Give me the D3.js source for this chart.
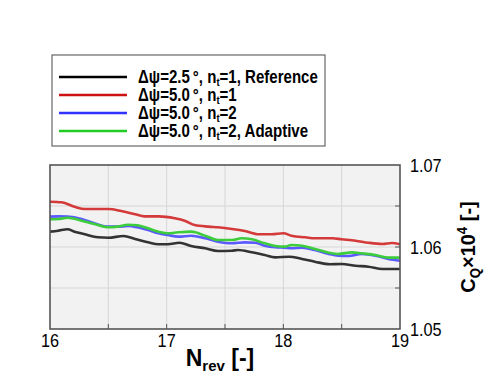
<!DOCTYPE html>
<html><head><meta charset="utf-8">
<script src="https://cdn.jsdelivr.net/npm/d3@7"></script>
<style>
html,body{margin:0;padding:0;background:#fff;}
svg{display:block;font-family:"Liberation Sans",Arial,Helvetica,sans-serif;}
</style></head>
<body>
<svg id="chart" width="501" height="376"></svg>
<script>
// ---- data ----
const seriesNames = ["ref", "red", "blue", "green"];
const nRef = [16.00,16.07,16.15,16.21,16.30,16.41,16.50,16.63,16.73,16.84,16.93,17.01,17.11,17.21,17.33,17.44,17.56,17.61,17.73,17.84,17.93,18.05,18.16,18.27,18.40,18.50,18.62,18.73,18.85,19.00];
const cqRef = [1.06187,1.06199,1.06216,1.06187,1.06155,1.06118,1.06113,1.06134,1.06098,1.06057,1.06033,1.06033,1.06052,1.06012,1.05984,1.05951,1.05955,1.05963,1.05935,1.05902,1.05874,1.05882,1.05854,1.05821,1.05789,1.05793,1.05772,1.05760,1.05732,1.05732];
const nRed = [16.00,16.10,16.21,16.30,16.50,16.61,16.73,16.81,16.93,17.07,17.16,17.24,17.36,17.44,17.56,17.67,17.79,17.90,18.00,18.07,18.19,18.27,18.42,18.50,18.62,18.73,18.85,18.93,19.00];
const cqRed = [1.06552,1.06545,1.06491,1.06463,1.06463,1.06439,1.06399,1.06374,1.06374,1.06350,1.06317,1.06268,1.06248,1.06240,1.06220,1.06195,1.06155,1.06155,1.06167,1.06138,1.06118,1.06106,1.06106,1.06094,1.06077,1.06052,1.06037,1.06049,1.06033];
const nBlue = [16.00,16.07,16.15,16.27,16.38,16.50,16.58,16.67,16.75,16.84,16.93,17.01,17.10,17.21,17.33,17.44,17.56,17.67,17.76,17.84,17.93,18.01,18.07,18.16,18.27,18.39,18.47,18.56,18.67,18.79,18.90,19.00];
const cqBlue = [1.06370,1.06374,1.06370,1.06341,1.06289,1.06248,1.06248,1.06256,1.06240,1.06207,1.06167,1.06146,1.06126,1.06138,1.06106,1.06065,1.06045,1.06057,1.06052,1.06016,1.05996,1.05991,1.05984,1.05991,1.05963,1.05915,1.05894,1.05890,1.05915,1.05894,1.05854,1.05833];
const nGreen = [16.00,16.07,16.15,16.27,16.38,16.50,16.58,16.67,16.75,16.84,16.93,17.01,17.10,17.21,17.33,17.44,17.56,17.64,17.73,17.84,17.93,18.01,18.07,18.16,18.27,18.39,18.47,18.59,18.67,18.79,18.90,19.00];
const cqGreen = [1.06338,1.06341,1.06357,1.06321,1.06280,1.06240,1.06248,1.06272,1.06265,1.06228,1.06187,1.06167,1.06179,1.06187,1.06138,1.06085,1.06085,1.06106,1.06094,1.06045,1.06012,1.06004,1.06024,1.06016,1.05976,1.05931,1.05915,1.05935,1.05923,1.05902,1.05870,1.05870];
const xTicks = [16, 17, 18, 19];
const xMinor = [16.5, 17, 17.5, 18, 18.5];
const yTicks = [1.05, 1.06, 1.07];
const yMinor = [1.055, 1.06, 1.065];
const legendLabels = [
  {pre:"\u0394\u03c8=2.5\u2009\u00b0, n", sub:"t", post:"=1, Reference"},
  {pre:"\u0394\u03c8=5.0\u2009\u00b0, n", sub:"t", post:"=1"},
  {pre:"\u0394\u03c8=5.0\u2009\u00b0, n", sub:"t", post:"=2"},
  {pre:"\u0394\u03c8=5.0\u2009\u00b0, n", sub:"t", post:"=2, Adaptive"}
];
const colors = ["#333333", "#d43a3a", "#5a5aff", "#3ccc3c"];
const legendColors = ["#000000", "#cc1111", "#3333ff", "#22cc22"];

// ---- drawing ----
const svg = d3.select("#chart");
const L = 50, R = 400, T = 165, B = 329;
const SX = 0.88;
const x = d3.scaleLinear().domain([16, 19]).range([L, R]);
const y = d3.scaleLinear().domain([1.05, 1.07]).range([B, T]);

svg.append("rect").attr("x", L).attr("y", T).attr("width", R - L).attr("height", B - T).attr("fill", "#f2f2f2");

// grid
const g = svg.append("g");
g.selectAll(".vg").data(xMinor).enter().append("line")
  .attr("x1", d => x(d)).attr("x2", d => x(d)).attr("y1", T).attr("y2", B)
  .attr("stroke", "#d6d6d6").attr("stroke-width", 1);
g.selectAll(".hg").data(yMinor).enter().append("line")
  .attr("y1", d => y(d)).attr("y2", d => y(d)).attr("x1", L).attr("x2", R)
  .attr("stroke", "#d6d6d6").attr("stroke-width", 1);

// series
const series = [
  {n: nRef, v: cqRef}, {n: nRed, v: cqRed}, {n: nBlue, v: cqBlue}, {n: nGreen, v: cqGreen}
];
const line = d3.line().x(d => x(d[0])).y(d => y(d[1])).curve(d3.curveMonotoneX);
svg.append("clipPath").attr("id", "clp").append("rect")
  .attr("x", L).attr("y", T).attr("width", R - L).attr("height", B - T);
series.forEach((s, i) => {
  svg.append("path").datum(s.n.map((n, k) => [n, s.v[k]]))
    .attr("d", line).attr("fill", "none").attr("stroke", colors[i])
    .attr("stroke-width", 2.6).attr("clip-path", "url(#clp)");
});

// ticks (inward)
svg.append("g").selectAll("line").data(xMinor).enter().append("line")
  .attr("x1", d => x(d)).attr("x2", d => x(d)).attr("y1", B).attr("y2", B - 5)
  .attr("stroke", "#555").attr("stroke-width", 1);
svg.append("g").selectAll("line").data(yMinor).enter().append("line")
  .attr("y1", d => y(d)).attr("y2", d => y(d)).attr("x1", R).attr("x2", R - 5)
  .attr("stroke", "#555").attr("stroke-width", 1);

// frame
svg.append("rect").attr("x", L).attr("y", T).attr("width", R - L).attr("height", B - T)
  .attr("fill", "none").attr("stroke", "#555").attr("stroke-width", 1.6);

// tick labels
svg.append("g").selectAll("text").data(xTicks).enter().append("text")
  .attr("transform", d => `translate(${x(d)},347) scale(${SX},1)`).attr("text-anchor", "middle")
  .attr("font-size", 18.5).attr("fill", "#000").text(d => d);
svg.append("g").selectAll("text").data(yTicks).enter().append("text")
  .attr("transform", d => `translate(410,${y(d) + 6.5}) scale(${SX},1)`).attr("text-anchor", "start")
  .attr("font-size", 18.5).attr("fill", "#000").text(d => d3.format(".2f")(d));

// axis titles
const xt = svg.append("text").attr("transform", "translate(220,366)").attr("text-anchor", "middle")
  .attr("font-size", 23).attr("font-weight", "bold");
xt.append("tspan").text("N");
xt.append("tspan").attr("font-size", 15).attr("dy", 5).text("rev");
xt.append("tspan").attr("dy", -5).text(" [-]");

const yt = svg.append("text").attr("transform", "translate(475,247) rotate(-90) scale(0.95,1)")
  .attr("text-anchor", "middle").attr("font-size", 21).attr("font-weight", "bold");
yt.append("tspan").text("C");
yt.append("tspan").attr("font-size", 14).attr("dy", 5).text("Q");
yt.append("tspan").attr("dy", -5).text("\u00d710");
yt.append("tspan").attr("font-size", 14).attr("dy", -8).text("4");
yt.append("tspan").attr("dy", 8).text(" [-]");

// legend
svg.append("rect").attr("x", 52).attr("y", 55).attr("width", 273).attr("height", 91)
  .attr("fill", "#fff").attr("stroke", "#666").attr("stroke-width", 1.2);
const rowsY = [77, 95, 113, 131];
legendLabels.forEach((lab, i) => {
  svg.append("line").attr("x1", 59).attr("x2", 127).attr("y1", rowsY[i]).attr("y2", rowsY[i])
    .attr("stroke", legendColors[i]).attr("stroke-width", 2.6);
  const t = svg.append("text").attr("transform", `translate(138,${rowsY[i] + 6}) scale(0.86,1)`)
    .attr("font-size", 17.5).attr("font-weight", "bold");
  t.append("tspan").text(lab.pre);
  t.append("tspan").attr("font-size", 11).attr("dy", 3).text(lab.sub);
  t.append("tspan").attr("dy", -3).text(lab.post);
});
</script>
</body></html>
